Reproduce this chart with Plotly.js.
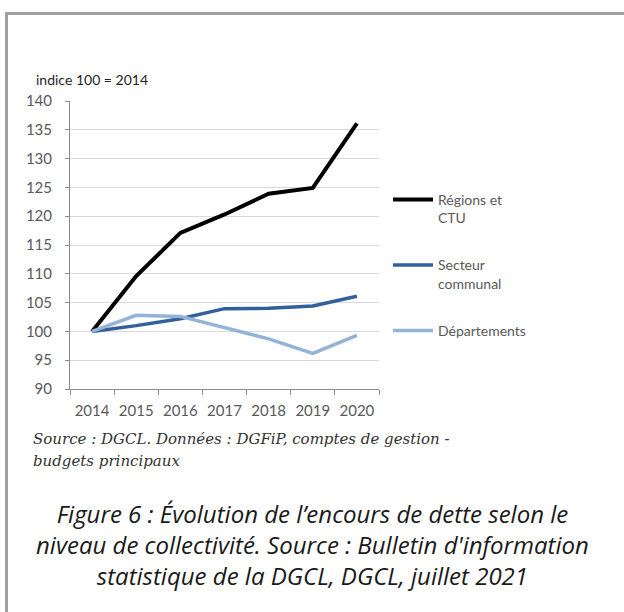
<!DOCTYPE html>
<html>
<head>
<meta charset="utf-8">
<script src="https://cdn.plot.ly/plotly-3.0.1.min.js"></script>
<style>
html,body{margin:0;padding:0;background:#fff;}
#wrap{position:relative;width:624px;height:612px;overflow:hidden;}
#chart{position:absolute;left:0;top:0;width:624px;height:612px;}
#frame{position:absolute;left:5px;top:12px;width:640px;height:620px;border-left:3px solid #a0a0a0;border-top:3px solid #a0a0a0;pointer-events:none;}
</style>
</head>
<body>
<div id="wrap"><div id="chart"></div><div id="frame"></div></div>
<script>
// Data
var years = ['2014','2015','2016','2017','2018','2019','2020'];
var regions = [100, 109.6, 117.1, 120.3, 123.9, 124.9, 136.1];
var secteur = [100, 101.0, 102.2, 103.95, 104.0, 104.4, 106.1];
var departements = [100, 102.8, 102.6, 100.7, 98.7, 96.2, 99.3];
var seriesNames = ['Régions et<br>CTU', 'Secteur<br>communal', 'Départements'];
var yTicks = [90, 95, 100, 105, 110, 115, 120, 125, 130, 135, 140];

var W = 624, H = 612;
var M = {l: 70, r: W - 379, t: 101, b: H - 389};
var PW = W - M.l - M.r, PH = H - M.t - M.b;
function px(x){ return (x - M.l) / PW; }
function py(y){ return (H - M.b - y) / PH; }

var lato = 'Lato, "Noto Sans", sans-serif';
var traces = [
  {x: years, y: regions, name: seriesNames[0], legendgroup: 'a', mode: 'lines', line: {color: '#000000', width: 4}},
  {x: years, y: secteur, name: seriesNames[1], legendgroup: 'b', mode: 'lines', line: {color: '#33609a', width: 3.5}},
  {x: years, y: departements, name: seriesNames[2], legendgroup: 'c', mode: 'lines', line: {color: '#95b3d7', width: 3.5}}
];

var ann = [];
ann.push({text: 'indice 100 = 2014', x: px(34), y: py(80), xref: 'paper', yref: 'paper', xanchor: 'left', yanchor: 'middle', showarrow: false, font: {family: lato, size: 14, color: '#1f1f1f'}});
var srcFont = {family: '"DejaVu Serif", serif', size: 15, color: '#333333'};
ann.push({text: '<i>Source : DGCL. Données : DGFiP, comptes de gestion -</i>', x: px(31), y: py(439), xref: 'paper', yref: 'paper', xanchor: 'left', yanchor: 'middle', showarrow: false, font: srcFont});
ann.push({text: '<i>budgets principaux</i>', x: px(31), y: py(461), xref: 'paper', yref: 'paper', xanchor: 'left', yanchor: 'middle', showarrow: false, font: srcFont});
var capFont = {family: '"Open Sans", sans-serif', size: 24, color: '#1a1a1a'};
var caps = ['Figure 6 : Évolution de l’encours de dette selon le', 'niveau de collectivité. Source : Bulletin d\'information', 'statistique de la DGCL, DGCL, juillet 2021'];
ann.push({text: '<i>' + caps.join('<br>') + '</i>', x: px(312), y: py(544), xref: 'paper', yref: 'paper', xanchor: 'center', yanchor: 'middle', align: 'center', showarrow: false, font: capFont});

var layout = {
  width: W, height: H,
  margin: M,
  paper_bgcolor: 'rgba(0,0,0,0)', plot_bgcolor: 'rgba(0,0,0,0)',
  showlegend: true,
  legend: {x: px(388), y: py(184), xanchor: 'left', yanchor: 'top', traceorder: 'grouped', tracegroupgap: 26, valign: 'top', itemwidth: 40, font: {family: lato, size: 14, color: '#595959'}, bgcolor: 'rgba(0,0,0,0)'},
  xaxis: {type: 'category', range: [-0.5, 6.5], showgrid: false, showline: true, linecolor: '#8c8c8c', linewidth: 1, ticks: 'outside', tickson: 'boundaries', ticklen: 5, tickcolor: '#8c8c8c', ticklabelstandoff: 8, tickfont: {family: lato, size: 15, color: '#595959'}, zeroline: false, fixedrange: true},
  yaxis: {range: [90, 140], tickvals: yTicks, showgrid: true, gridcolor: '#d9d9d9', gridwidth: 1, showline: true, linecolor: '#8c8c8c', linewidth: 1, ticks: 'outside', ticklen: 4, tickcolor: '#8c8c8c', ticklabelstandoff: 10, tickfont: {family: lato, size: 15, color: '#595959'}, zeroline: false, fixedrange: true},
  annotations: ann
};
Plotly.newPlot('chart', traces, layout, {staticPlot: true, displayModeBar: false});
</script>
</body>
</html>
